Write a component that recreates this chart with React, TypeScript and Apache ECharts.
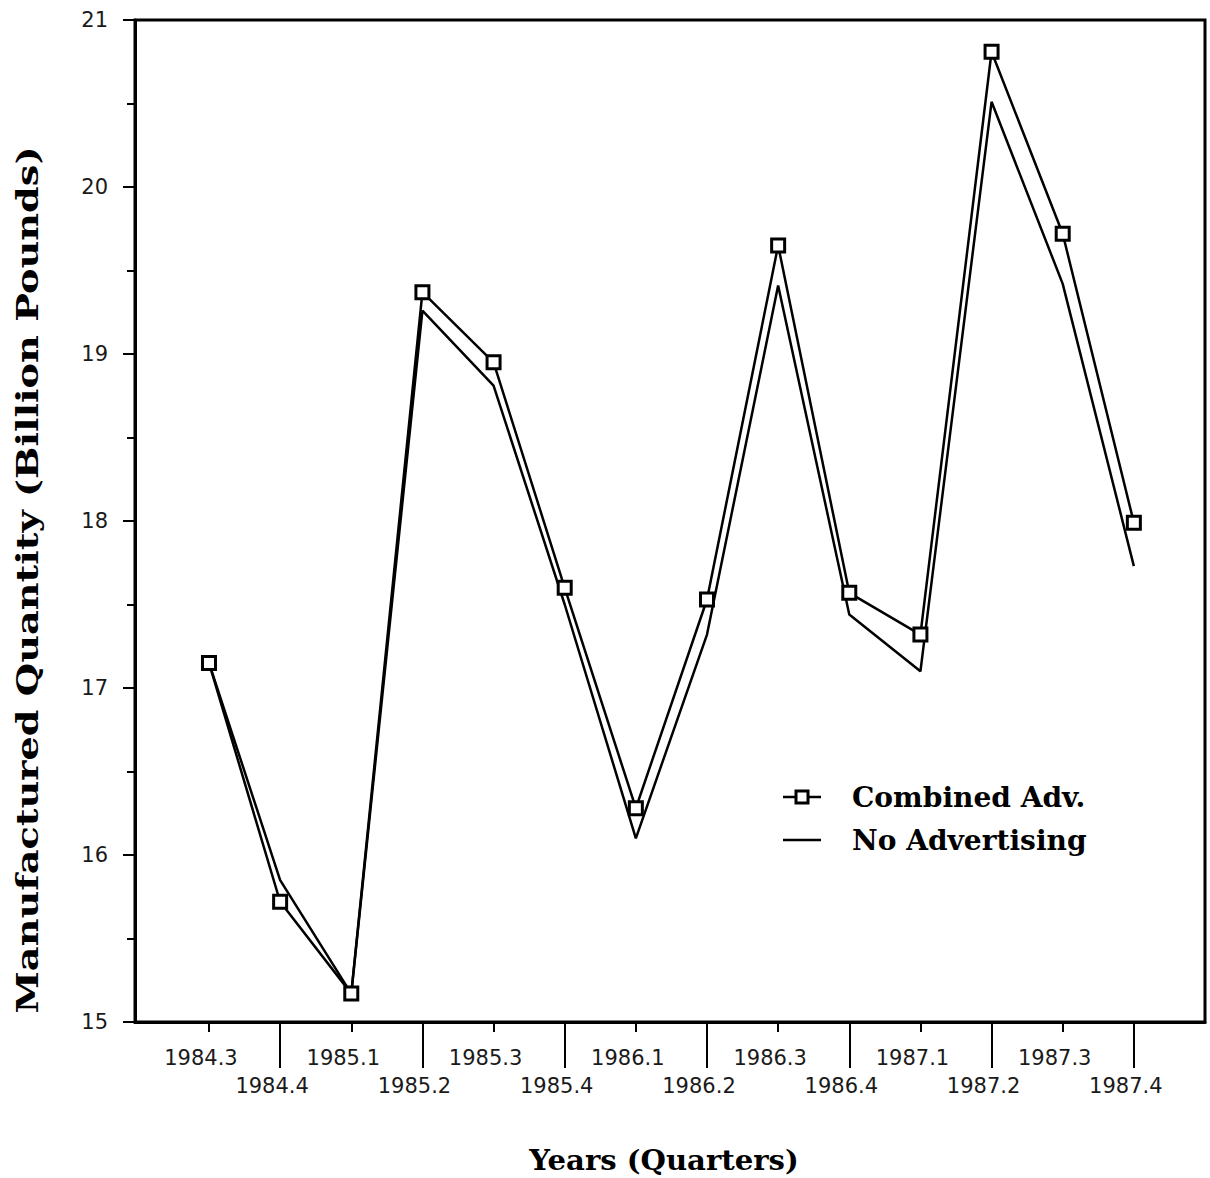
import React, { useEffect, useRef } from "react";
import * as echarts from "echarts";

const categories = [
  "1984.3", "1984.4", "1985.1", "1985.2", "1985.3", "1985.4", "1986.1",
  "1986.2", "1986.3", "1986.4", "1987.1", "1987.2", "1987.3", "1987.4",
];
const combinedAdv = [17.15, 15.72, 15.17, 19.37, 18.95, 17.6, 16.28, 17.53, 19.65, 17.57, 17.32, 20.81, 19.72, 17.99];
const noAdvertising = [17.15, 15.85, 15.17, 19.26, 18.81, 17.5, 16.1, 17.32, 19.41, 17.44, 17.1, 20.51, 19.42, 17.73];
const seriesNames = ["Combined Adv.", "No Advertising"];
const firstRowIdx = [0, 2, 4, 6, 8, 10, 12];
const secondRowIdx = [1, 3, 5, 7, 9, 11, 13];
const yTicks = { min: 15, max: 21, interval: 1 };

export default function App() {
  const ref = useRef<HTMLDivElement>(null);
  useEffect(() => {
    document.body.style.margin = "0";
    const chart = echarts.init(ref.current!, null, { renderer: "svg" });
    const fmt = (v: number) => categories[Math.round(v)] ?? "";
    const labelFont = { fontFamily: "DejaVu Sans", fontSize: 21, color: "#1a1a1a", padding: [0, 16, 0, 0] };
    const titleFont = "DejaVu Serif";
    const legendText = (text: string, y: number) => ({
      type: "text", x: 852, y, scaleX: 1.04,
      style: { text, fontFamily: titleFont, fontWeight: "bold", fontSize: 27, fill: "#000", align: "left", verticalAlign: "middle" },
    });
    chart.setOption({
      animation: false,
      backgroundColor: "#fff",
      grid: {
        left: 135, top: 20, right: 5, bottom: 156,
        show: true, borderColor: "#000", borderWidth: 3, backgroundColor: "transparent",
      },
      xAxis: [
        {
          type: "value", min: -1.04, max: 14, position: "bottom",
          axisLine: { show: true, onZero: false, lineStyle: { color: "#000", width: 3 } },
          axisTick: { show: true, customValues: firstRowIdx, length: 10, lineStyle: { color: "#000", width: 2 } },
          axisLabel: { show: true, customValues: firstRowIdx, formatter: fmt, margin: 25, ...labelFont },
          splitLine: { show: false },
        },
        {
          type: "value", min: -1.04, max: 14, position: "bottom",
          axisLine: { show: false, onZero: false },
          axisTick: { show: true, customValues: secondRowIdx, length: 46, lineStyle: { color: "#000", width: 2 } },
          axisLabel: { show: true, customValues: secondRowIdx, formatter: fmt, margin: 53, ...labelFont },
          splitLine: { show: false },
        },
      ],
      yAxis: {
        type: "value", min: yTicks.min, max: yTicks.max, interval: yTicks.interval,
        axisLine: { show: true, onZero: false, lineStyle: { color: "#000", width: 3 } },
        axisTick: { show: true, length: 12, lineStyle: { color: "#000", width: 2 } },
        minorTick: { show: true, splitNumber: 2, length: 8, lineStyle: { color: "#000", width: 2 } },
        axisLabel: { margin: 27, fontFamily: "DejaVu Sans", fontSize: 21, color: "#1a1a1a" },
        splitLine: { show: false },
      },
      graphic: [
        {
          type: "text", x: 28, y: 580, rotation: Math.PI / 2, scaleX: 1.32,
          style: {
            text: "Manufactured Quantity (Billion Pounds)", fontFamily: titleFont, fontWeight: "bold",
            fontSize: 29, fill: "#000", align: "center", verticalAlign: "middle",
          },
        },
        {
          type: "text", x: 664, y: 1160, scaleX: 1.04,
          style: {
            text: "Years (Quarters)", fontFamily: titleFont, fontWeight: "bold",
            fontSize: 28, fill: "#000", align: "center", verticalAlign: "middle",
          },
        },
        { type: "line", shape: { x1: 783, y1: 797, x2: 821, y2: 797 }, style: { stroke: "#000", lineWidth: 2.5 } },
        { type: "rect", shape: { x: 796, y: 791, width: 12, height: 12 }, style: { fill: "#fff", stroke: "#000", lineWidth: 3 } },
        { type: "line", shape: { x1: 783, y1: 840, x2: 821, y2: 840 }, style: { stroke: "#000", lineWidth: 2.5 } },
        legendText(seriesNames[0], 797),
        legendText(seriesNames[1], 840),
      ],
      series: [
        {
          name: seriesNames[0], type: "line", xAxisIndex: 0,
          data: combinedAdv.map((v, i) => [i, v]),
          symbol: "rect", symbolSize: 13, showAllSymbol: true,
          lineStyle: { color: "#000", width: 2.5 },
          itemStyle: { color: "#fff", borderColor: "#000", borderWidth: 3 },
          z: 3,
        },
        {
          name: seriesNames[1], type: "line", xAxisIndex: 0,
          data: noAdvertising.map((v, i) => [i, v]),
          symbol: "none",
          lineStyle: { color: "#000", width: 2.5 },
          itemStyle: { color: "#000" },
          z: 2,
        },
      ],
    });
    return () => chart.dispose();
  }, []);
  return <div ref={ref} style={{ width: 1210, height: 1178 }} />;
}
